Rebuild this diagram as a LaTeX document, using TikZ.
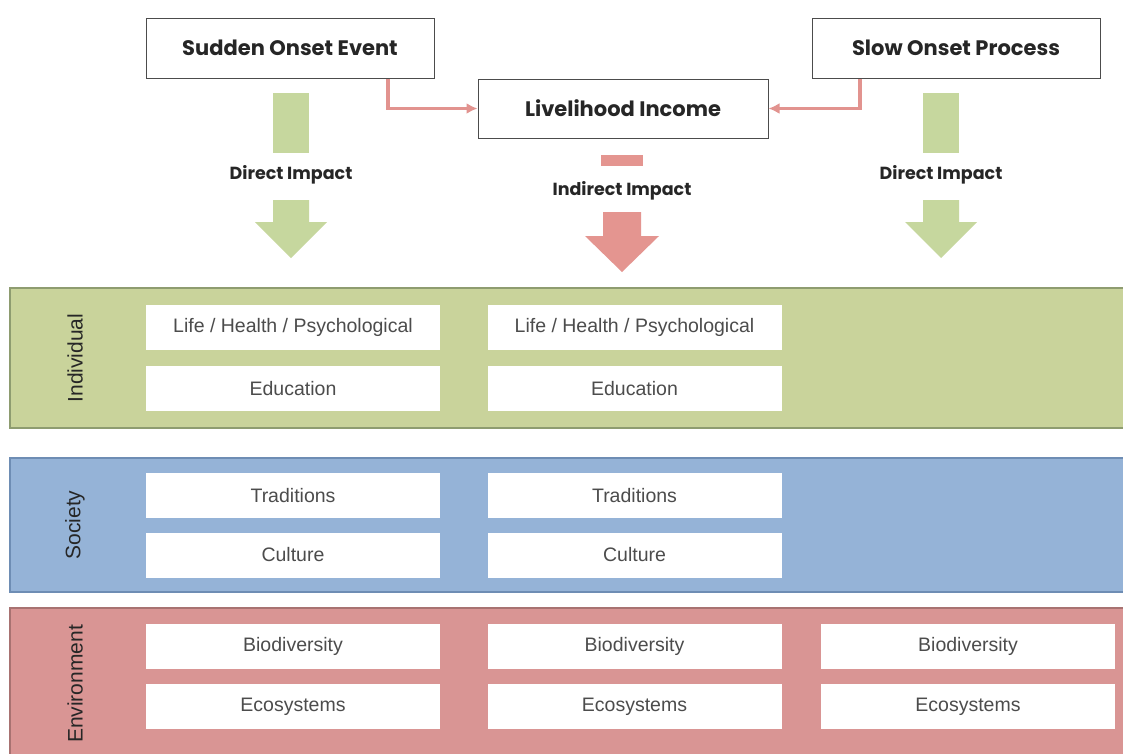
\documentclass[tikz,border=0pt]{standalone}
\usepackage{fontspec}
\setmainfont{Liberation Sans}
\newfontfamily\titlefont{Poppins}
\begin{document}
\begin{tikzpicture}[x=1pt,y=-1pt,
  topbox/.style={draw=black!70,line width=1pt,fill=white,minimum width=288pt,minimum height=60pt,inner sep=0pt,font=\titlefont\fontsize{21}{24}\selectfont\bfseries,text=black!85},
  cell/.style={fill=white,minimum width=294pt,minimum height=45pt,inner sep=0pt,font=\fontsize{19.5}{22}\selectfont,text=black!70},
  band/.style={line width=1.4pt},
  lbl/.style={rotate=90,font=\fontsize{21}{24}\selectfont,text=black!85},
  imp/.style={font=\titlefont\fontsize{17.5}{20}\selectfont\bfseries,text=black!85},
  conn/.style={draw=redc,line width=3.5pt,-{Latex[length=11pt,width=11pt]}},
]
\usetikzlibrary{arrows.meta}
\definecolor{greenb}{HTML}{C9D39B}
\definecolor{greenl}{HTML}{8E9C70}
\definecolor{greena}{HTML}{C6D79E}
\definecolor{blueb}{HTML}{95B3D7}
\definecolor{bluel}{HTML}{6E8DB4}
\definecolor{pinkb}{HTML}{D99594}
\definecolor{pinkl}{HTML}{A87271}
\definecolor{redc}{HTML}{E2938F}
\definecolor{reda}{HTML}{E49590}
\useasboundingbox (0,0) rectangle (1123,753);
\fill[white] (0,0) rectangle (1123,753);

% top boxes
\node[topbox] (sudden) at (290,48) {Sudden Onset Event};
\node[topbox] (slow) at (956,48) {Slow Onset Process};
\node[topbox,minimum width=290pt,minimum height=59pt] (live) at (623,108.5) {Livelihood Income};

\draw[conn] ([xshift=98pt]sudden.south) |- (live.west);
\draw[conn] ([xshift=-96pt]slow.south) |- (live.east);

% direct impact left
\fill[greena] (273,93) rectangle (309,153);
\node[imp] (dl) at (291,175) {Direct Impact};
\fill[greena] (273,200) -- (309,200) -- (309,222) -- (327,222) -- (291,258) -- (255,222) -- (273,222) -- cycle;
% direct impact right
\fill[greena] (923,93) rectangle (959,153);
\node[imp] (dr) at (941,175) {Direct Impact};
\fill[greena] (923,200) -- (959,200) -- (959,222) -- (977,222) -- (941,258) -- (905,222) -- (923,222) -- cycle;
% indirect impact
\fill[reda] (601,155) rectangle (643,166);
\node[imp] (im) at (622,191) {Indirect Impact};
\fill[reda] (603,212) -- (641,212) -- (641,236) -- (659,236) -- (622,272) -- (585,236) -- (603,236) -- cycle;

% bands
\filldraw[band,fill=greenb,draw=greenl] (10,288) rectangle (1130,428);
\filldraw[band,fill=blueb,draw=bluel] (10,458) rectangle (1130,592);
\filldraw[band,fill=pinkb,draw=pinkl] (10,608) rectangle (1130,760);

\node[lbl] (lind) at (75,358) {Individual};
\node[lbl] (lsoc) at (75,525) {Society};
\node[lbl] (lenv) at (75,684) {Environment};

% cells
\node[cell] (i11) at (293,327.5) {Life / Health / Psychological};
\node[cell] (i12) at (293,388.5) {Education};
\node[cell] (i21) at (634.5,327.5) {Life / Health / Psychological};
\node[cell] (i22) at (634.5,388.5) {Education};

\node[cell] (s11) at (293,495.5) {Traditions};
\node[cell] (s12) at (293,555) {Culture};
\node[cell] (s21) at (634.5,495.5) {Traditions};
\node[cell] (s22) at (634.5,555) {Culture};

\node[cell] (e11) at (293,646.5) {Biodiversity};
\node[cell] (e12) at (293,706.5) {Ecosystems};
\node[cell] (e21) at (634.5,646.5) {Biodiversity};
\node[cell] (e22) at (634.5,706.5) {Ecosystems};
\node[cell] (e31) at (968,646.5) {Biodiversity};
\node[cell] (e32) at (968,706.5) {Ecosystems};
\end{tikzpicture}
\end{document}
